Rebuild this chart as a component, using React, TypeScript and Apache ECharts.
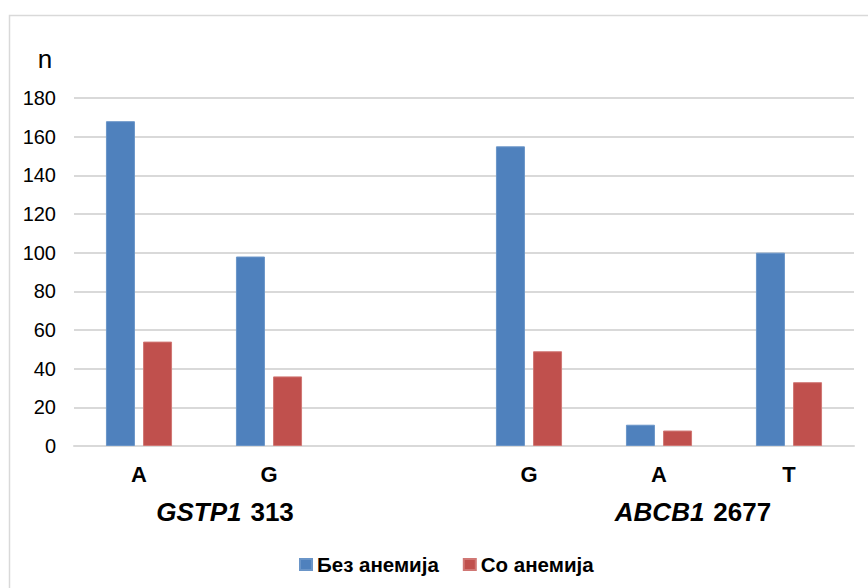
import React, { useEffect, useRef } from "react";
import * as echarts from "echarts";

const categories = ["A", "G", "", "G", "A", "T"];
const withoutAnemia = [168, 98, null, 155, 11, 100];
const withAnemia = [54, 36, null, 49, 8, 33];
const seriesNames = ["Без анемија", "Со анемија"];
const yTicks = { min: 0, max: 180, interval: 20 };
const groupLabels = [
  { gene: "GSTP1", pos: "313" },
  { gene: "ABCB1", pos: "2677" },
];

const FONT = "'Liberation Sans', Arial, sans-serif";

export default function App() {
  const ref = useRef<HTMLDivElement>(null);
  useEffect(() => {
    if (!ref.current) return;
    const chart = echarts.init(ref.current, null, { renderer: "svg" });
    chart.setOption({
      animation: false,
      backgroundColor: "#ffffff",
      textStyle: { fontFamily: FONT },
      grid: { left: 74, right: 14, top: 98, bottom: 142, containLabel: false },
      legend: {
        left: 294,
        top: 549,
        icon: "rect",
        itemWidth: 12,
        itemHeight: 11,
        itemGap: 24,
        textStyle: { fontSize: 20.5, fontWeight: "bold", color: "#000", fontFamily: FONT },
        data: seriesNames,
      },
      xAxis: {
        type: "category",
        data: categories,
        axisTick: { show: false },
        axisLine: { lineStyle: { color: "#d9d9d9", width: 2 } },
        axisLabel: {
          fontSize: 22,
          fontWeight: "bold",
          color: "#000",
          margin: 17,
          fontFamily: FONT,
        },
      },
      yAxis: {
        type: "value",
        min: yTicks.min,
        max: yTicks.max,
        interval: yTicks.interval,
        axisLine: { show: false },
        axisTick: { show: false },
        axisLabel: { fontSize: 20, color: "#000", margin: 18, fontFamily: FONT },
        splitLine: { lineStyle: { color: "#d9d9d9", width: 2 } },
      },
      series: [
        {
          name: seriesNames[0],
          type: "bar",
          data: withoutAnemia,
          barWidth: 29,
          barGap: "28%",
          itemStyle: { color: "#4f81bd", borderColor: "#6a95c8", borderWidth: 1 },
        },
        {
          name: seriesNames[1],
          type: "bar",
          data: withAnemia,
          barWidth: 29,
          itemStyle: { color: "#c0504d", borderColor: "#d07774", borderWidth: 1 },
        },
      ],
      graphic: [
        {
          type: "rect",
          shape: { x: 9.5, y: 15.5, width: 880, height: 600 },
          style: { fill: "none", stroke: "#d9d9d9", lineWidth: 1.5 },
          silent: true,
        },
        {
          type: "text",
          x: 45,
          y: 59,
          style: {
            text: "n",
            fontSize: 26,
            fill: "#000",
            fontFamily: FONT,
            align: "center",
            verticalAlign: "middle",
          },
        },
        ...groupLabels.map((g, i) => ({
          type: "text",
          x: i === 0 ? 225 : 693,
          y: 512,
          style: {
            text: `{i|${g.gene}}{b|${g.pos}}`,
            align: "center",
            verticalAlign: "middle",
            rich: {
              i: { fontSize: 26, fontWeight: "bold", fontStyle: "italic", fill: "#000", fontFamily: FONT },
              b: { fontSize: 26, fontWeight: "bold", fill: "#000", fontFamily: FONT, padding: [0, 0, 0, 9] },
            },
          },
        })),
      ],
    });
    return () => chart.dispose();
  }, []);
  return (
    <div
      ref={ref}
      style={{ position: "absolute", left: 0, top: 0, width: 868, height: 588 }}
    />
  );
}
